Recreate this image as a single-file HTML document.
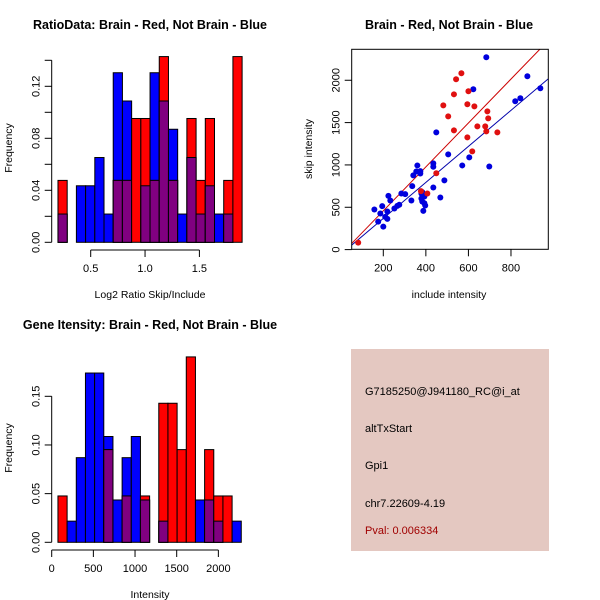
<!DOCTYPE html>
<html><head><meta charset="utf-8"><style>
body{margin:0;background:#fff;position:relative;width:600px;height:600px;overflow:hidden;}
svg{display:block;font-family:"Liberation Sans",sans-serif;}
</style></head><body>
<svg id="c" width="600" height="600" viewBox="0 0 600 600"></svg>
<script>
// Ratio histogram data (frequency counts per bin)
const ratioRedCounts = [1,0,0,0,0,0,1,1,2,2,1,3,1,0,2,1,2,0,1,3];
const ratioBlueCounts = [1,0,2,2,3,1,6,5,0,2,6,5,4,1,3,1,2,1,1,0];
const ratioTicks = [0.5,1.0,1.5];
const ratioYTicks = [0,0.04,0.08,0.12];
// Intensity histogram data
const intRedCounts = [1,0,0,0,0,2,0,1,0,1,0,3,3,2,4,0,2,1,1,0];
const intBlueCounts = [0,1,4,8,8,5,2,4,5,2,0,1,0,0,0,2,2,1,0,1];
const intTicks = [0,500,1000,1500,2000];
const intYTicks = [0,0.05,0.10,0.15];
// Scatter data
const redInclude = [82,377,407,449,482,505,532,532,542,567,600,595,595,618,628,642,679,684,689,693,736];
const redSkip = [83,690,663,902,1704,1574,1408,1834,2012,2083,1870,1716,1325,1160,1692,1456,1456,1396,1633,1550,1385];
const blueInclude = [158,176,186,195,200,209,219,219,224,233,252,266,275,285,303,332,336,341,355,360,374,374,379,379,383,383,388,393,393,397,435,435,435,468,487,449,505,571,604,623,684,698,820,844,877,938];
const blueSkip = [473,331,426,513,272,387,363,450,635,580,485,517,529,663,655,580,750,876,923,994,899,927,604,663,568,679,458,548,627,521,1018,978,734,615,817,1385,1124,994,1089,1894,2272,982,1752,1787,2047,1905];
const redFit = [-61, 2.594];
const blueFit = [-57, 2.127];
const scatterXTicks = [200,400,600,800];
const scatterYTicks = [0,500,1000,1500,2000];

const svg = document.getElementById('c');
const NS = 'http://www.w3.org/2000/svg';
function mk(tag, attrs, parent){const e=document.createElementNS(NS,tag);for(const k in attrs)e.setAttribute(k,attrs[k]);(parent||svg).appendChild(e);return e;}
function txt(s, attrs, parent){const e=mk('text',attrs,parent);e.textContent=s;return e;}

function histogram(name, red, blue, nRed, nBlue, x0, bw, xs, ys, xTicks, yTicks, yMax, yTickStep, fmtX, fmtY, axisY, title, xlab, oy){
  const g = mk('g',{});
  
  
  for(let i=0;i<red.length;i++){
    const r=red[i]/nRed, b=blue[i]/nBlue;
    const xl=xs(x0+i*bw), xr=xs(x0+(i+1)*bw);
    const draw=(v,col,nm)=>{ if(v<=0)return; const el=mk('rect',{x:xl,y:ys(v),width:xr-xl,height:ys(0)-ys(v),fill:col,stroke:'#000','stroke-width':1},g);
      
       };
    draw(b,'#0000ff','bar-blue-'+(i+1));
    draw(r,'#ff0000','bar-red-'+(i+1));
    draw(Math.min(r,b),'#800080','bar-overlap-'+(i+1));
  }
  const ax=51.7;
  const ya=mk('g',{});
  
  
  mk('line',{x1:ax,y1:ys(0),x2:ax,y2:ys(yMax),stroke:'#000'},ya);
  for(let v=0; v<=yMax+1e-9; v+=yTickStep){ mk('line',{x1:ax-7,y1:ys(v),x2:ax,y2:ys(v),stroke:'#000'},ya); }
  yTicks.forEach(v=>{ const y=ys(v); txt(fmtY(v),{x:0,y:0,transform:`translate(${ax-12},${y}) rotate(-90)`,'text-anchor':'middle','font-size':11},ya); });
  const xa=mk('g',{});
  
  
  mk('line',{x1:xs(xTicks[0]),y1:axisY,x2:xs(xTicks[xTicks.length-1]),y2:axisY,stroke:'#000'},xa);
  xTicks.forEach(v=>{ mk('line',{x1:xs(v),y1:axisY,x2:xs(v),y2:axisY+7,stroke:'#000'},xa); txt(fmtX(v),{x:xs(v),y:axisY+22,'text-anchor':'middle','font-size':11},xa); });
  const t=txt(title,{x:150,y:oy+29,'text-anchor':'middle','font-size':12.5,'font-weight':'bold'});
   
  const xl=txt(xlab,{x:150,y:oy+298,'text-anchor':'middle','font-size':10.5});
   
  const yl=txt('Frequency',{x:0,y:0,transform:`translate(12,${oy+148}) rotate(-90)`,'text-anchor':'middle','font-size':10.5});
   
}

(function(){
  const xs=v=>90.7+(v-0.5)*108.7;
  const ys=v=>242.3-v*1300;
  histogram('ratio-histogram',ratioRedCounts,ratioBlueCounts,21,46,0.199,0.0847,xs,ys,ratioTicks,ratioYTicks,0.14,0.02,v=>v.toFixed(1),v=>v.toFixed(2),250,'RatioData: Brain - Red, Not Brain - Blue','Log2 Ratio Skip/Include',0);
})();
(function(){
  const xs=v=>51.7+v*0.08333;
  const ys=v=>542.3-v*973.3;
  histogram('intensity-histogram',intRedCounts,intBlueCounts,21,46,75,110,xs,ys,intTicks,intYTicks,0.15,0.05,v=>String(v),v=>v.toFixed(2),550,'Gene Itensity: Brain - Red, Not Brain - Blue','Intensity',300);
})();

(function(){
  const xs=v=>383.3+(v-200)*0.2128;
  const ys=v=>249.6-v*0.08467;
  const g=mk('g',{});
  
  
  const L=351.7,R=548.3,T=49.3,B=249.3;
  mk('clipPath',{id:'sc'},g); mk('rect',{x:L,y:T,width:R-L,height:B-T},g.lastChild);
  const fit=(f,col,nm)=>{ const x1=51.5,x2=975; const l=mk('line',{x1:xs(x1),y1:ys(f[0]+f[1]*x1),x2:xs(x2),y2:ys(f[0]+f[1]*x2),stroke:col,'stroke-width':1,'clip-path':'url(#sc)'},g);
      };
  fit(redFit,'#cc0000','red-fit-line');
  fit(blueFit,'#0000aa','blue-fit-line');
  blueInclude.forEach((v,i)=>{ const c=mk('circle',{cx:xs(v),cy:ys(blueSkip[i]),r:3,fill:'#0000dd'},g);
      });
  redInclude.forEach((v,i)=>{ const c=mk('circle',{cx:xs(v),cy:ys(redSkip[i]),r:3,fill:'#e01010'},g);
      });
  const box=mk('rect',{x:L,y:T,width:R-L,height:B-T,fill:'none',stroke:'#000'},g);
   
  scatterXTicks.forEach(v=>{ mk('line',{x1:xs(v),y1:B,x2:xs(v),y2:B+7,stroke:'#000'},g); txt(String(v),{x:xs(v),y:B+22,'text-anchor':'middle','font-size':11},g); });
  scatterYTicks.forEach(v=>{ mk('line',{x1:L-7,y1:ys(v),x2:L,y2:ys(v),stroke:'#000'},g); txt(String(v),{x:0,y:0,transform:`translate(${L-12},${ys(v)}) rotate(-90)`,'text-anchor':'middle','font-size':11},g); });
  const t=txt('Brain - Red, Not Brain - Blue',{x:449,y:29,'text-anchor':'middle','font-size':12.5,'font-weight':'bold'});
   
  const xl=txt('include intensity',{x:449,y:298,'text-anchor':'middle','font-size':10.5});
   
  const yl=txt('skip intensity',{x:0,y:0,transform:'translate(312,149) rotate(-90)','text-anchor':'middle','font-size':10.5});
   
})();
</script>
<div style="position:absolute;left:351px;top:349px;width:198px;height:202px;background:#e4c8c1;font-family:'Liberation Sans',sans-serif;font-size:11px;">
<div style="position:absolute;left:14px;top:37px;">G7185250@J941180_RC@i_at</div>
<div style="position:absolute;left:14px;top:74px;">altTxStart</div>
<div style="position:absolute;left:14px;top:111px;">Gpi1</div>
<div style="position:absolute;left:14px;top:149px;">chr7.22609-4.19</div>
<div style="position:absolute;left:14px;top:176px;color:#a00000;">Pval: 0.006334</div>
</div>
</body></html>
